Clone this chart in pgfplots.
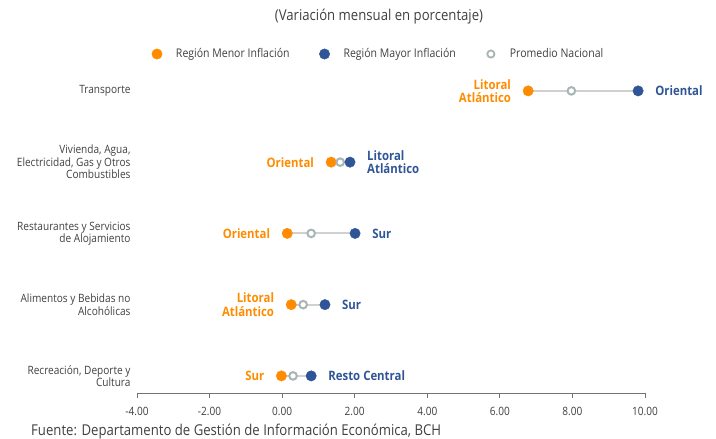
\documentclass[border=0pt]{standalone}
\usepackage{fontspec}
\setmainfont{Open Sans}[FakeStretch=0.88]
\usepackage{pgfplots}
\pgfplotsset{compat=1.18}
\definecolor{cOr}{HTML}{FF8C00}
\definecolor{cBl}{HTML}{2F5597}
\definecolor{cGr}{HTML}{A9B4B4}
\definecolor{cLn}{HTML}{D0D0D0}
\definecolor{cTx}{HTML}{404040}
\begin{document}
\begin{tikzpicture}[x=1bp,y=1bp]
\useasboundingbox (0,0) rectangle (716,-439);
\coordinate (A) at (137,-393);
\node[font=\fontsize{15}{17}\selectfont, text=cTx] at (379,-17) {(Variación mensual en porcentaje)};
\node[anchor=west, font=\fontsize{15}{17}\selectfont, text=cTx, inner sep=0pt] at (31,-432) {Fuente: Departamento de Gestión de Información Económica, BCH};
\begin{axis}[
 at={(A)}, anchor=south west,
 x=36.2857bp, y=71.25bp,
 xmin=-4, xmax=10, ymin=0.76, ymax=5.44,
 axis x line*=bottom, axis y line*=left,
 y axis line style={draw=none},
 x axis line style={draw=black!55, line width=0.8bp, -},
 xtick={-4,-2,0,2,4,6,8,10},
 xtick align=outside,
 major x tick style={draw=black!55, line width=0.8bp},
 major tick length=5bp,
 xticklabel={\pgfmathprintnumber[fixed,fixed zerofill,precision=2,assume math mode=true]{\tick}},
 xticklabel style={font=\fontsize{11.5}{13}\selectfont, text=cTx, yshift=-6bp},
 ytick={1,2,3,4,5},
 major y tick style={draw=none},
 yticklabels={{Recreación, Deporte y\\Cultura},{Alimentos y Bebidas no\\Alcohólicas},{Restaurantes y Servicios\\de Alojamiento},{Vivienda, Agua,\\Electricidad, Gas y Otros\\Combustibles},Transporte},
 yticklabel style={align=right, font=\fontsize{11.5}{12.5}\selectfont, text=cTx, xshift=-3bp},
 clip=false,
 legend columns=3,
 legend style={at={(axis description cs:0.0256,1.0166)}, anchor=west, draw=none, fill=none,
   inner sep=0pt, outer sep=0pt, font=\fontsize{12}{13}\selectfont, text=cTx,
   /tikz/every even column/.append style={column sep=26bp}},
 legend image code/.code={\path[draw=none,fill=none] (0bp,-0.1bp) rectangle (24bp,0.1bp); \draw[#1] plot coordinates {(7bp,0bp)};},
]
\addplot[cLn, line width=1.8bp, forget plot] coordinates {(6.78,5) (9.81,5)};
\addplot[cLn, line width=1.8bp, forget plot] coordinates {(1.35,4) (1.87,4)};
\addplot[cLn, line width=1.8bp, forget plot] coordinates {(0.14,3) (2.01,3)};
\addplot[cLn, line width=1.8bp, forget plot] coordinates {(0.25,2) (1.18,2)};
\addplot[cLn, line width=1.8bp, forget plot] coordinates {(-0.02,1) (0.80,1)};
\addplot[only marks, mark=*, mark size=5.2bp, mark options={draw=cOr, fill=cOr}, forget plot]
 coordinates {(6.78,5) (1.35,4) (0.14,3) (0.25,2) (-0.02,1)};
\addplot[only marks, mark=*, mark size=3.8bp, mark options={draw=cGr, fill=white, line width=2bp}, forget plot]
 coordinates {(7.97,5) (1.60,4) (0.80,3) (0.58,2) (0.30,1)};
\addplot[only marks, mark=*, mark size=5.2bp, mark options={draw=cBl, fill=cBl}, forget plot]
 coordinates {(9.81,5) (1.87,4) (2.01,3) (1.18,2) (0.80,1)};
\addlegendimage{only marks, draw=none, mark=*, mark size=5.2bp, mark options={draw=cOr, fill=cOr}}
\addlegendentry{Región Menor Inflación}
\addlegendimage{only marks, draw=none, mark=*, mark size=5.2bp, mark options={draw=cBl, fill=cBl}}
\addlegendentry{Región Mayor Inflación}
\addlegendimage{only marks, draw=none, mark=*, mark size=3.6bp, mark options={draw=cGr, fill=white, line width=1.8bp}}
\addlegendentry{Promedio Nacional}
\tikzset{lo/.style={anchor=east, align=right, text=cOr, font=\fontsize{13}{13.5}\selectfont\bfseries, xshift=-17bp, inner sep=0pt},
         lb/.style={anchor=west, align=left, text=cBl, font=\fontsize{13}{13.5}\selectfont\bfseries, xshift=17bp, inner sep=0pt}}
\node[lo] at (axis cs:6.78,5) {Litoral\\Atlántico};
\node[lb] at (axis cs:9.81,5) {Oriental};
\node[lo] at (axis cs:1.35,4) {Oriental};
\node[lb] at (axis cs:1.87,4) {Litoral\\Atlántico};
\node[lo] at (axis cs:0.14,3) {Oriental};
\node[lb] at (axis cs:2.01,3) {Sur};
\node[lo] at (axis cs:0.25,2) {Litoral\\Atlántico};
\node[lb] at (axis cs:1.18,2) {Sur};
\node[lo] at (axis cs:-0.02,1) {Sur};
\node[lb] at (axis cs:0.80,1) {Resto Central};
\end{axis}
\end{tikzpicture}
\end{document}
